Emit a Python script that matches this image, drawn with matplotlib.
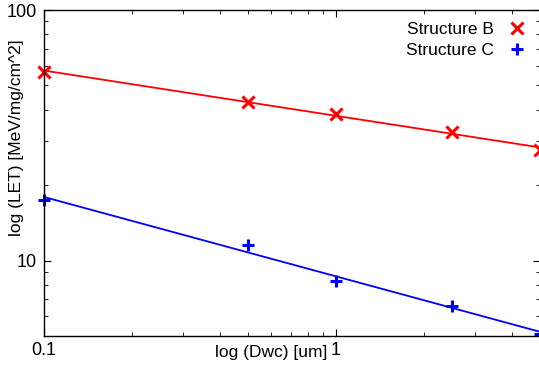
import numpy as np
import matplotlib
matplotlib.use("Agg")
import matplotlib.pyplot as plt
from matplotlib.ticker import FixedLocator, FixedFormatter, LogLocator, NullFormatter

plt.rcParams['font.family'] = ['Liberation Sans', 'DejaVu Sans']

# thickness values (um) and LET values
dwc = [0.1, 0.5, 1.0, 2.5, 5.0]
let_b = [56.6, 43.0, 38.5, 32.7, 27.5]
let_c = [17.5, 11.5, 8.3, 6.6, 5.1]

x_ticks = [0.1, 1]
x_tick_labels = ["0.1", "1"]
y_ticks = [10, 100]
y_tick_labels = ["10", "100"]


def powerfit(x, y, xs):
    # straight line in log-log space
    k, c = np.polyfit(np.log10(x), np.log10(y), 1)
    return 10 ** (c + k * np.log10(xs))


fig = plt.figure(figsize=(5.39, 3.70), dpi=100)
ax = fig.add_axes([44 / 539, 1 - 336 / 370, 1.002 - 44 / 539, (336 - 10) / 370])

xs = np.geomspace(0.1, 5.0, 50)
ax.plot(xs, powerfit(dwc, let_b, xs), color="#ff0000", lw=1.3)
ax.plot(xs, powerfit(dwc, let_c, xs), color="#0000ff", lw=1.3)
ax.plot(dwc, let_b, ls="none", marker="x", ms=8, mew=2.2, color="#ff0000",
        label="Structure B", clip_on=False)
ax.plot(dwc, let_c, ls="none", marker="+", ms=9, mew=2.2, color="#0000ff",
        label="Structure C", clip_on=False)

ax.set_xscale("log")
ax.set_yscale("log")
ax.set_xlim(0.1, 5.0)
ax.set_ylim(5, 100)

ax.xaxis.set_major_locator(FixedLocator(x_ticks))
ax.xaxis.set_major_formatter(FixedFormatter(x_tick_labels))
ax.yaxis.set_major_locator(FixedLocator(y_ticks))
ax.yaxis.set_major_formatter(FixedFormatter(y_tick_labels))
ax.xaxis.set_minor_locator(LogLocator(subs=np.arange(2, 10)))
ax.yaxis.set_minor_locator(LogLocator(subs=np.arange(2, 10)))
ax.xaxis.set_minor_formatter(NullFormatter())
ax.yaxis.set_minor_formatter(NullFormatter())

ax.tick_params(which="both", direction="in", top=True, right=True, labelsize=13)
ax.tick_params(which="major", length=5, width=0.8)
ax.tick_params(which="minor", length=3, width=0.6)
ax.tick_params(axis="x", pad=4)
ax.tick_params(axis="y", pad=5)
for s in ax.spines.values():
    s.set_linewidth(1.0)

ax.set_xlabel("log (Dwc) [um]", fontsize=12.5, va="center")
ax.xaxis.set_label_coords(0.457, -0.052)
ax.set_ylabel("log (LET) [MeV/mg/cm^2]", fontsize=12.5, va="center")
ax.yaxis.set_label_coords(-0.0545, 0.607)

ax.legend(loc="upper right", frameon=False, markerfirst=False, fontsize=12.5,
          handlelength=1.0, handletextpad=0.8, labelspacing=0.3,
          borderaxespad=0.3, bbox_to_anchor=(0.995, 1.0))

fig.savefig("out.png", dpi=100)
